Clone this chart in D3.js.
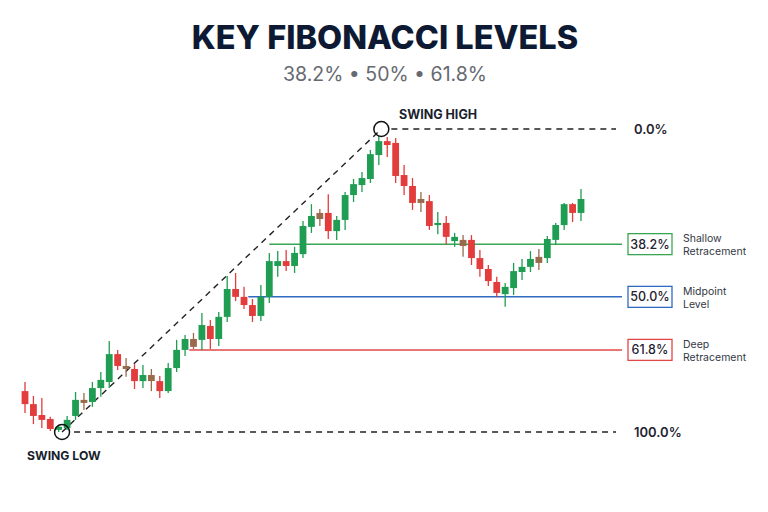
<!DOCTYPE html>
<html>
<head>
<meta charset="utf-8">
<script src="https://cdn.jsdelivr.net/npm/d3@7"></script>
<style>
html,body{margin:0;padding:0;background:#fff;}
svg{display:block;}
</style>
</head>
<body>
<svg id="chart" width="768" height="512"></svg>
<script>
// ---- data ----
const titleText = "KEY FIBONACCI LEVELS";
const subtitleText = "38.2% • 50% • 61.8%";

const candleOpen  = [113.5,109.2,105.6,104.3,100.7,101.3,105.3,109.6,109.9,114.5,116.5,125.7,121.8,120.8,116.8,118.8,116.8,113.5,121.1,127.1,130.7,130.4,135.0,130.7,138.0,147.2,144.6,141.9,138.3,144.6,154.8,156.4,154.8,158.7,167.7,170.3,172.3,166.3,170.0,178.2,181.5,183.5,191.4,196.0,195.4,184.8,181.2,176.9,176.2,168.3,169.0,163.0,163.4,163.4,157.4,153.8,149.5,145.5,147.5,152.8,154.5,155.8,157.4,163.4,168.3,175.2,172.3];
const candleHigh  = [116.5,111.9,111.2,105.0,102.3,105.3,113.2,112.9,116.5,119.8,130.0,127.1,124.4,122.4,122.1,120.8,118.5,122.8,130.4,132.0,132.7,139.3,137.0,139.6,151.5,152.5,147.9,143.9,148.5,159.1,159.7,160.1,161.1,169.6,175.2,173.6,178.5,171.3,179.2,183.5,185.8,193.1,197.7,197.4,197.0,188.1,183.8,179.2,178.2,172.6,171.3,165.7,165.0,165.0,160.1,155.1,151.2,149.2,155.8,157.1,159.7,160.4,164.7,169.0,175.6,175.6,180.2];
const candleLow   = [106.3,102.6,101.3,100.3,100.0,100.7,104.0,107.3,108.3,111.6,114.5,120.5,118.2,114.2,114.5,113.5,111.2,112.9,119.8,125.1,127.4,127.1,127.4,128.4,136.3,143.2,140.6,136.3,136.6,142.6,151.2,153.1,152.5,157.4,165.7,168.0,163.7,163.4,166.7,175.9,179.2,182.2,188.1,190.8,182.2,178.2,173.3,172.6,166.7,165.3,162.0,161.1,157.8,155.1,151.2,148.2,144.6,141.3,145.2,150.2,152.8,153.5,155.8,161.7,166.7,169.3,169.6];
const candleClose = [109.2,105.3,104.0,101.0,101.7,104.0,110.6,110.6,114.5,117.2,125.7,121.8,120.8,116.8,118.8,116.8,113.5,121.1,127.1,130.7,128.1,135.3,130.7,138.0,147.2,144.6,141.9,138.3,144.6,156.4,156.4,154.8,159.1,168.0,171.3,172.3,166.3,170.0,178.2,181.8,183.8,191.7,196.0,194.7,184.5,181.2,175.6,175.6,168.0,169.0,164.4,164.4,161.4,157.4,153.8,149.8,145.9,147.9,153.1,154.5,157.1,157.8,163.7,168.3,175.2,172.3,176.9];
const dojiCandles = [7,12,15,20,35,47,52,61];

const swingLow  = {index: 4.4, price: 100};
const swingHigh = {index: 42.3, price: 200};

const levelPcts   = ["38.2%","50.0%","61.8%"];
const levelPrices = [162.0, 144.6, 127.1];
const levelStart  = [29, 26.5, 19.5];
const levelNames  = [["Shallow","Retracement"],["Midpoint","Level"],["Deep","Retracement"]];
const levelColors = ["#3aa655","#2f6bc0","#e04848"];

const extremeLabels = ["0.0%","100.0%"];
const extremePrices = [200, 100];

// ---- layout ----
const svg = d3.select("#chart");
const W = 768, H = 512;
const x = d3.scaleLinear().domain([0, candleOpen.length - 1]).range([25, 581]);
const y = d3.scaleLinear().domain([100, 200]).range([432, 129]);
const FONT = "Inter, Roboto, 'Open Sans', sans-serif";
const GREEN = "#1f9d52", RED = "#e23c3c", BROWN = "#9a6a4c";

svg.append("rect").attr("width", W).attr("height", H).attr("fill", "#ffffff");

// title
svg.append("text").attr("x", 385).attr("y", 49).attr("text-anchor", "middle")
  .attr("font-family", FONT).attr("font-weight", 800).attr("font-size", 32.5)
  .attr("fill", "#0e1a33").text(titleText);
svg.append("text").attr("x", 385).attr("y", 81).attr("text-anchor", "middle")
  .attr("font-family", FONT).attr("font-weight", 400).attr("font-size", 19.5)
  .attr("fill", "#666a70").text(subtitleText);

// fib colored levels
const lv = svg.append("g");
levelPrices.forEach((p, i) => {
  lv.append("line").attr("x1", x(levelStart[i])).attr("x2", 622)
    .attr("y1", y(p)).attr("y2", y(p))
    .attr("stroke", levelColors[i]).attr("stroke-width", 1.5);
});

// extreme dashed lines
svg.append("line").attr("x1", x(swingHigh.index) + 10).attr("x2", 616)
  .attr("y1", y(extremePrices[0])).attr("y2", y(extremePrices[0]))
  .attr("stroke", "#222").attr("stroke-width", 1.4).attr("stroke-dasharray", "6,5");
svg.append("line").attr("x1", x(swingLow.index) + 12).attr("x2", 616)
  .attr("y1", y(extremePrices[1])).attr("y2", y(extremePrices[1]))
  .attr("stroke", "#222").attr("stroke-width", 1.4).attr("stroke-dasharray", "6,5");

// diagonal dashed
svg.append("line").attr("x1", x(swingLow.index)).attr("y1", y(swingLow.price))
  .attr("x2", x(swingHigh.index)).attr("y2", y(swingHigh.price))
  .attr("stroke", "#222").attr("stroke-width", 1.4).attr("stroke-dasharray", "6,5");

// candles
const cg = svg.append("g");
const colorOf = i => dojiCandles.includes(i) ? BROWN : (candleClose[i] >= candleOpen[i] ? GREEN : RED);
candleOpen.forEach((o, i) => {
  const c = candleClose[i];
  const col = colorOf(i);
  cg.append("line").attr("x1", x(i)).attr("x2", x(i))
    .attr("y1", y(candleHigh[i])).attr("y2", y(candleLow[i]))
    .attr("stroke", col).attr("stroke-width", 1.3);
  const top = y(Math.max(o, c)), bot = y(Math.min(o, c));
  cg.append("rect").attr("x", x(i) - 3.4).attr("width", 6.8)
    .attr("y", top).attr("height", Math.max(2, bot - top)).attr("fill", col);
});

// swing circles
[swingLow, swingHigh].forEach(s => {
  svg.append("circle").attr("cx", x(s.index)).attr("cy", y(s.price)).attr("r", 7.5)
    .attr("fill", "none").attr("stroke", "#111").attr("stroke-width", 1.5);
});
svg.append("text").attr("x", 399).attr("y", 119)
  .attr("font-family", FONT).attr("font-weight", 700).attr("font-size", 12.5)
  .attr("fill", "#1a1f2e").text("SWING HIGH");
svg.append("text").attr("x", 27).attr("y", 460)
  .attr("font-family", FONT).attr("font-weight", 700).attr("font-size", 12.2)
  .attr("fill", "#1a1f2e").text("SWING LOW");

// extreme labels
extremeLabels.forEach((t, i) => {
  svg.append("text").attr("x", 634).attr("y", y(extremePrices[i]) + 5)
    .attr("font-family", FONT).attr("font-weight", 600).attr("font-size", 13)
    .attr("fill", "#1f2330").text(t);
});

// level boxes + names
levelPrices.forEach((p, i) => {
  const yy = y(p);
  svg.append("rect").attr("x", 628).attr("y", yy - 10.5).attr("width", 44).attr("height", 21)
    .attr("fill", "#fff").attr("stroke", levelColors[i]).attr("stroke-width", 1.3);
  svg.append("text").attr("x", 650).attr("y", yy + 4.5).attr("text-anchor", "middle")
    .attr("font-family", FONT).attr("font-weight", 500).attr("font-size", 12.5)
    .attr("fill", "#1f2330").text(levelPcts[i]);
  levelNames[i].forEach((n, k) => {
    svg.append("text").attr("x", 683).attr("y", yy - 2 + k * 13)
      .attr("font-family", FONT).attr("font-weight", 400).attr("font-size", 10.5)
      .attr("fill", "#333844").text(n);
  });
});
</script>
</body>
</html>
